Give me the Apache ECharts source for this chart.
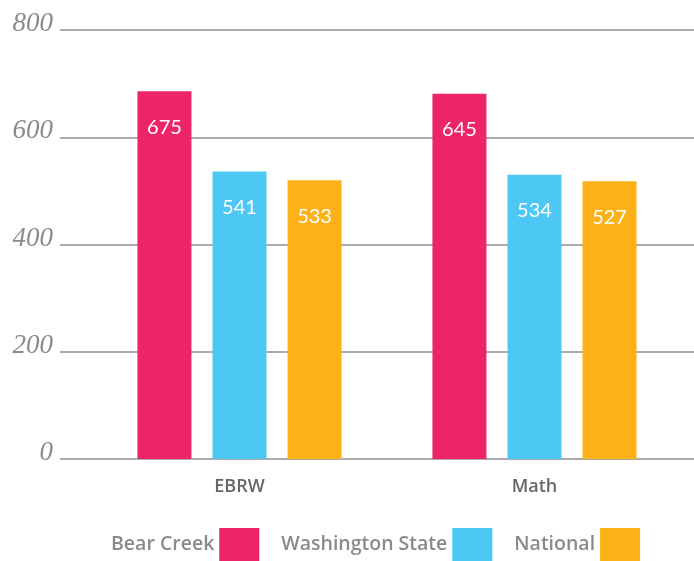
<!DOCTYPE html>
<html><head><meta charset="utf-8">
<script src="https://cdn.jsdelivr.net/npm/echarts@6/dist/echarts.min.js"></script>
<style>html,body{margin:0;padding:0;background:#fff}#c{width:694px;height:561px}</style>
</head><body><div id="c"></div>
<script>
const categories = ['EBRW', 'Math'];
const seriesNames = ['Bear Creek', 'Washington State', 'National'];
const bearCreek = [686, 681];
const washington = [536, 530];
const national = [520, 518];
const bearCreekLabels = ['675', '645'];
const washingtonLabels = ['541', '534'];
const nationalLabels = ['533', '527'];
const yTicks = [0, 200, 400, 600, 800];
const colors = ['#EE246A', '#4DC7F4', '#FDB119'];

const chart = echarts.init(document.getElementById('c'));
function mk(name, data, labels, color) {
  return {
    name: name, type: 'bar', xAxisIndex: 1, yAxisIndex: 1,
    data: data, barWidth: 54, barGap: '39%',
    itemStyle: { color: color },
    label: {
      show: true, position: 'insideTop', distance: 26,
      color: '#fff', fontSize: 20, fontFamily: 'Lato',
      formatter: p => labels[p.dataIndex]
    }
  };
}
chart.setOption({
  animation: false,
  color: colors,
  grid: [
    { left: 60, right: 0, top: 30, bottom: 102 },
    { left: 92, right: 12, top: 30, bottom: 102 }
  ],
  xAxis: [
    { gridIndex: 0, type: 'value', show: false, min: 0, max: 1 },
    { gridIndex: 1, type: 'category', data: categories,
      axisLine: { show: false }, axisTick: { show: false },
      axisLabel: { margin: 19, color: '#666666', fontSize: 18, fontWeight: 600, fontFamily: 'Open Sans' } }
  ],
  yAxis: [
    { gridIndex: 0, type: 'value', min: yTicks[0], max: yTicks[yTicks.length - 1], interval: 200,
      axisLine: { show: false }, axisTick: { show: false },
      splitLine: { lineStyle: { color: '#ababab', width: 2 } },
      axisLabel: { margin: 7, color: '#8a8a8a', fontSize: 27, fontStyle: 'italic', fontFamily: 'Liberation Serif', verticalAlign: 'bottom', lineHeight: 12 } },
    { gridIndex: 1, type: 'value', min: 0, max: 800, show: false, splitLine: { show: false } }
  ],
  legend: {
    top: 523, left: 106, align: 'right',
    itemWidth: 40, itemHeight: 33, itemGap: 22, icon: 'rect',
    textStyle: { color: '#8a8a8a', fontSize: 19.5, fontWeight: 600, fontFamily: 'Open Sans' },
    data: seriesNames
  },
  series: [
    mk(seriesNames[0], bearCreek, bearCreekLabels, colors[0]),
    mk(seriesNames[1], washington, washingtonLabels, colors[1]),
    mk(seriesNames[2], national, nationalLabels, colors[2])
  ]
});
</script></body></html>
